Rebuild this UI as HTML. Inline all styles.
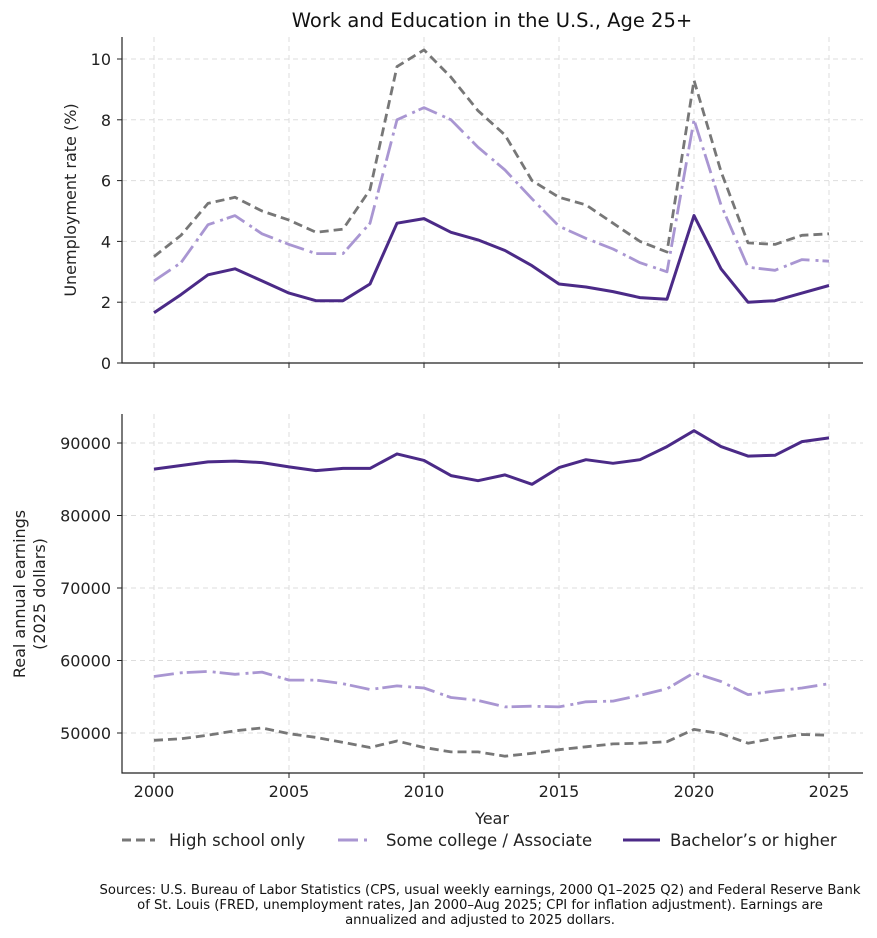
<!DOCTYPE html>
<html><head><meta charset="utf-8"><style>
html,body{margin:0;padding:0;background:#fff;}
svg{display:block;font-family:"DejaVu Sans","Liberation Sans",sans-serif;}
</style></head><body>
<svg id="s" width="877" height="938" viewBox="0 0 877 938" xmlns="http://www.w3.org/2000/svg">
<text x="492" y="27" font-size="19.5" text-anchor="middle" fill="#111">Work and Education in the U.S., Age 25+</text>
<g id="grid" stroke="#ddd" stroke-dasharray="5,4" stroke-width="1"></g>
<g id="lines" fill="none" stroke-linejoin="round"></g>
<g stroke="#222" stroke-width="1.2" fill="none">
<path d="M122,37 V363 H863"/>
<path d="M122,414 V773 H863"/>
</g>
<g id="ticks" font-size="16" fill="#222"></g>
<text transform="translate(76,200) rotate(-90)" font-size="16" text-anchor="middle" fill="#222">Unemployment rate (%)</text>
<text transform="translate(25,594) rotate(-90)" font-size="16" text-anchor="middle" fill="#222">Real annual earnings</text>
<text transform="translate(45,594) rotate(-90)" font-size="16" text-anchor="middle" fill="#222">(2025 dollars)</text>
<text x="492" y="824" font-size="16" text-anchor="middle" fill="#222">Year</text>
<g font-size="16.5" fill="#222">
<line x1="122" y1="840" x2="155" y2="840" stroke="#777" stroke-width="3" stroke-dasharray="9,5"/>
<text x="169" y="846">High school only</text>
<line x1="338" y1="840" x2="371" y2="840" stroke="#a996d2" stroke-width="3" stroke-dasharray="20,6,3,4"/>
<text x="386" y="846">Some college / Associate</text>
<line x1="623" y1="840" x2="660" y2="840" stroke="#4b2a87" stroke-width="3"/>
<text x="670" y="846">Bachelor’s or higher</text>
</g>
<g font-size="13.2" fill="#111" text-anchor="middle">
<text x="480" y="894">Sources: U.S. Bureau of Labor Statistics (CPS, usual weekly earnings, 2000 Q1–2025 Q2) and Federal Reserve Bank</text>
<text x="480" y="909">of St. Louis (FRED, unemployment rates, Jan 2000–Aug 2025; CPI for inflation adjustment). Earnings are</text>
<text x="480" y="924">annualized and adjusted to 2025 dollars.</text>
</g>
</svg>
<script>
var NS="http://www.w3.org/2000/svg";
function el(p,t,a,txt){var e=document.createElementNS(NS,t);for(var k in a)e.setAttribute(k,a[k]);if(txt!=null)e.textContent=txt;document.getElementById(p).appendChild(e);return e;}
function X(y){return 154+(y-2000)*27;}
function Y1(v){return 363-v*30.4;}
function Y2(v){return 443+(90000-v)*0.00725;}
var hs1=[3.5,4.2,5.25,5.45,5.0,4.7,4.3,4.4,5.7,9.75,10.3,9.4,8.3,7.5,6.0,5.45,5.2,4.6,4.0,3.65,9.3,6.3,3.95,3.9,4.2,4.25];
var sc1=[2.7,3.3,4.55,4.85,4.25,3.9,3.6,3.6,4.6,8.0,8.4,8.0,7.1,6.35,5.4,4.5,4.1,3.75,3.3,3.0,8.0,5.2,3.15,3.05,3.4,3.35];
var ba1=[1.65,2.25,2.9,3.1,2.7,2.3,2.05,2.05,2.6,4.6,4.75,4.3,4.05,3.7,3.2,2.6,2.5,2.35,2.15,2.1,4.85,3.1,2.0,2.05,2.3,2.55];
var ba2=[86400,86900,87400,87500,87300,86700,86200,86500,86500,88500,87600,85500,84800,85600,84300,86600,87700,87200,87700,89500,91700,89500,88200,88300,90200,90700];
var sc2=[57800,58300,58500,58100,58400,57300,57300,56800,56000,56500,56200,54900,54500,53600,53700,53600,54300,54400,55200,56100,58300,57100,55300,55800,56200,56800];
var hs2=[49000,49200,49700,50300,50700,49900,49400,48700,48000,48900,48000,47400,47400,46800,47200,47700,48100,48500,48600,48800,50500,49900,48600,49300,49800,49700];
for(var y=2000;y<=2025;y+=5){el("grid","line",{x1:X(y),x2:X(y),y1:37,y2:363});el("grid","line",{x1:X(y),x2:X(y),y1:414,y2:773});}
for(var v=0;v<=10;v+=2){el("grid","line",{x1:122,x2:863,y1:Y1(v),y2:Y1(v)});}
for(var v=50000;v<=90000;v+=10000){el("grid","line",{x1:122,x2:863,y1:Y2(v),y2:Y2(v)});}
function pl(d,f,c,da,w){var p=d.map(function(v,i){return X(2000+i)+","+f(v).toFixed(1)}).join(" ");var a={points:p,stroke:c,"stroke-width":w||2.8};if(da)a["stroke-dasharray"]=da;el("lines","polyline",a);}
pl(hs1,Y1,"#777","9,5");pl(sc1,Y1,"#a996d2","20,6,3,4");pl(ba1,Y1,"#4b2a87",null,3);
pl(ba2,Y2,"#4b2a87",null,3);pl(sc2,Y2,"#a996d2","20,6,3,4");pl(hs2,Y2,"#777","9,5");
for(var y=2000;y<=2025;y+=5){el("ticks","line",{x1:X(y),x2:X(y),y1:363,y2:368,stroke:"#222"});el("ticks","line",{x1:X(y),x2:X(y),y1:773,y2:778,stroke:"#222"});el("ticks","text",{x:X(y),y:797,"text-anchor":"middle"},y);}
for(var v=0;v<=10;v+=2){el("ticks","line",{x1:117,x2:122,y1:Y1(v),y2:Y1(v),stroke:"#222"});el("ticks","text",{x:111,y:Y1(v)+6,"text-anchor":"end"},v);}
for(var v=50000;v<=90000;v+=10000){el("ticks","line",{x1:117,x2:122,y1:Y2(v),y2:Y2(v),stroke:"#222"});el("ticks","text",{x:111,y:Y2(v)+6,"text-anchor":"end"},v);}
</script>
</body></html>
